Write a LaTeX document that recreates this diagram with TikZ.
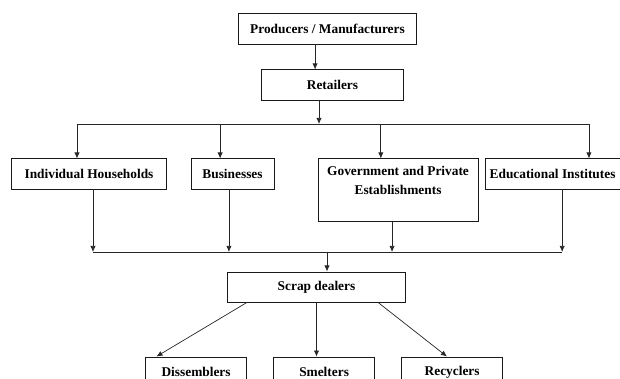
\documentclass[tikz,border=0pt]{standalone}
\usepackage{fontspec}
\setmainfont{Liberation Serif}
\usetikzlibrary{positioning,arrows.meta}

\begin{document}
\begin{tikzpicture}[x=0.025cm, y=-0.025cm, font=\bfseries\fontsize{9.5}{13.5}\selectfont,
  >={Latex[length=1.5mm,width=1.3mm]},
  party/.style={draw=black!90, line width=0.7pt, shape=rectangle, minimum height=0.75cm, inner sep=2pt, align=center},
  sink/.style={party, minimum width=2.525cm},
  flow/.style={->, line width=0.5pt, black!85}]

      \useasboundingbox (0,0) rectangle (620,379);
      \clip (0,0) rectangle (620,379);

      \node[party, minimum width=4.425cm] (producers) at (327.5,29) {Producers / Manufacturers};
      \node[party, minimum width=3.525cm, below=0.625cm of producers, xshift=0.125cm] (retailers) {Retailers};

      \node[party, minimum width=3.85cm] (households) at (89,174) {Individual Households};
      \node[party, minimum width=2.075cm, right=0.6cm of households] (businesses) {Businesses};
      \node[party, minimum width=4cm, inner ysep=5pt, right=1.075cm of businesses.north east, anchor=north west] (government) {Government and Private\\Establishments\\[0.02cm]};
      \node[party, minimum width=3.375cm, right=0.15cm of government.north east, anchor=north west] (educational) {Educational Institutes};

      \node[party, minimum width=4.425cm] (scrap) at (316.5,287) {Scrap dealers};
      \node[sink, below=1.35cm of scrap, xshift=0.19cm] (smelters) {Smelters};
      \node[sink, left=0.65cm of smelters] (dissemblers) {Dissemblers};
      \node[sink, right=0.65cm of smelters] (recyclers) {Recyclers};

      \coordinate (distribute) at (319,124);
      \coordinate (collect) at (327,252);

      \draw [flow] ([xshift=-0.31cm]producers.south) -- ([xshift=-0.31cm]producers.south |- retailers.north);
      \draw [flow] (retailers.south -| distribute) -- (distribute);

      % retailers out to the buyers
      \draw [line width=0.5pt, black!85] ([xshift=-0.3cm]households.north |- distribute) -- ([xshift=0.91cm]educational.north |- distribute);
      \foreach \buyer/\dx in {households/-0.3, businesses/-0.31, government/-0.43, educational/0.91}
        \draw [flow] ([xshift=\dx cm]\buyer.north |- distribute) -- ([xshift=\dx cm]\buyer.north);

      % buyers back to the scrap dealers
      \foreach \buyer/\dx in {households/0.1, businesses/-0.09, government/-0.15, educational/0.24}
        \draw [flow] ([xshift=\dx cm]\buyer.south) -- ([xshift=\dx cm]\buyer.south |- collect);
      \draw [line width=0.5pt, black!85] ([xshift=0.1cm]households.south |- collect) -- ([xshift=0.24cm]educational.south |- collect);
      \draw [flow] (collect) -- (collect |- scrap.north);

      \draw [flow] ([xshift=-1.74cm]scrap.south) -- ([xshift=-0.99cm]dissemblers.north);
      \draw [flow] (scrap.south) -- (scrap.south |- smelters.north);
      \draw [flow] ([xshift=1.54cm]scrap.south) -- ([xshift=-0.13cm]recyclers.north);
\end{tikzpicture}
\end{document}
